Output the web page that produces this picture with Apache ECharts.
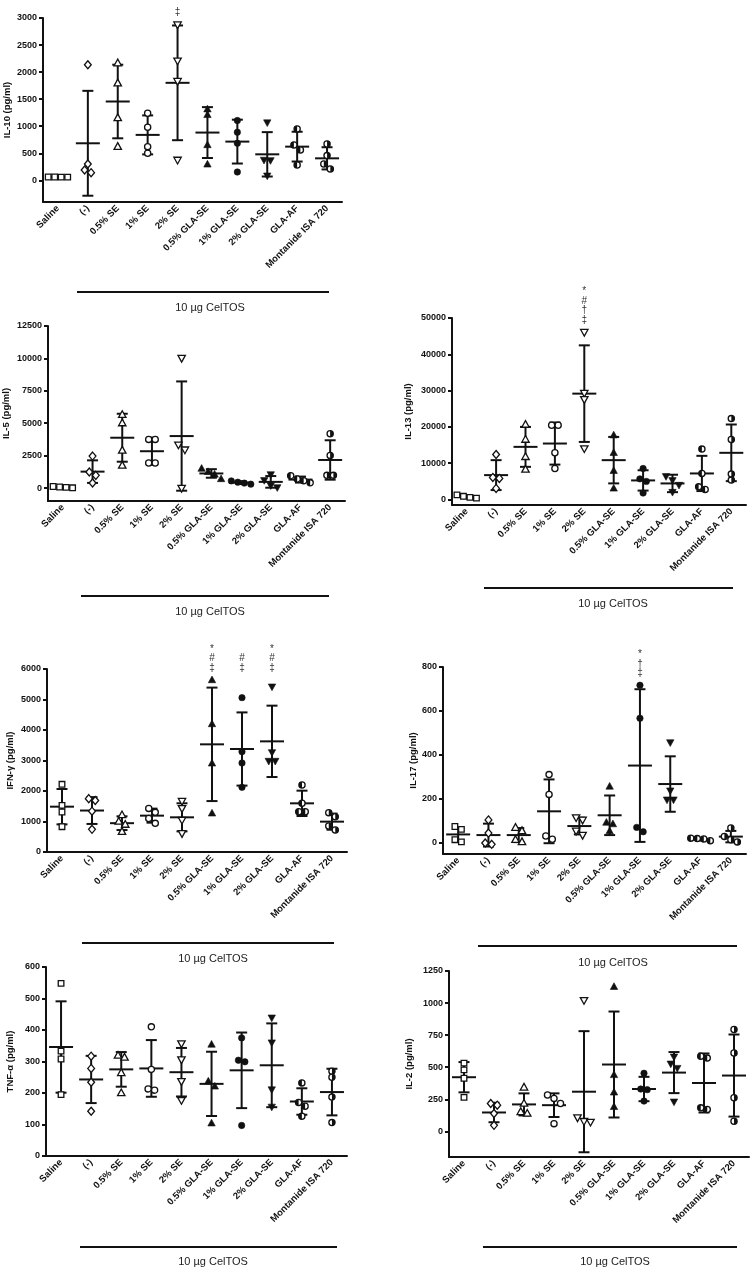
<!DOCTYPE html>
<html><head><meta charset="utf-8">
<script src="https://cdn.jsdelivr.net/npm/echarts@6/dist/echarts.min.js"></script>
<style>html,body{margin:0;padding:0;background:#fff}#c{width:750px;height:1271px}</style>
</head><body><div id="c"></div>
<script>
const categories = ['Saline','(-)','0.5% SE','1% SE','2% SE','0.5% GLA-SE','1% GLA-SE','2% GLA-SE','GLA-AF','Montanide ISA 720'];
const groupLabel = '10 \u00b5g CelTOS';

// IL-10
const il10Values = [[62,60,62,60],[2136,302,142,191],[2167,1796,1154,623],[1241,981,623,500],[2877,2210,1833,377],[1315,1210,654,296],[1105,889,685,154],[1068,377,370,86],[951,654,562,284],[673,457,302,210]];
const il10Mean = [61,685,1457,840,1802,883,716,481,623,407];
const il10SD = [3,969,680,360,1060,470,405,410,275,205];
const il10Ticks = [0,500,1000,1500,2000,2500,3000];
const il10Marks = [{g:4, marks:['\u2021']}];

// IL-5
const il5Values = [[120,80,50,20],[2467,1234,977,386],[5654,5012,2904,1748],[3752,3752,1928,1928],[10023,3341,2956,0],[1500,1250,1050,700],[550,450,380,300],[1050,600,200,50],[950,700,560,400],[4189,2519,977,977]];
const il5Mean = [68,1266,3881,2840,4009,1125,420,475,652,2165];
const il5SD = [40,870,1850,1050,4215,330,110,450,232,1520];
const il5Ticks = [0,2500,5000,7500,10000,12500];
const il5Marks = [];

// IL-13
const il13Values = [[1300,900,600,400],[12400,6090,5815,3070],[20650,16530,11770,8290],[20470,20470,12870,8560],[46100,29350,27600,14060],[17720,12870,7920,3070],[8560,5700,5000,1800],[6400,5300,4000,2060],[13900,7200,3500,2800],[22300,16530,7010,5360]];
const il13Mean = [800,6730,14510,15430,29170,10850,5270,4440,7190,12870];
const il13SD = [400,4120,5500,5800,13300,6400,2800,2400,4850,7800];
const il13Ticks = [0,10000,20000,30000,40000,50000];
const il13Marks = [{g:4, marks:['*','#','\u2020','\u2021']}];

// IFN-gamma
const ifngValues = [[2219,1530,1311,830],[1750,1690,1340,743],[1213,1000,900,667],[1430,1300,1100,940],[1672,1432,1049,612],[5639,4197,2907,1268],[5060,3290,2918,2120],[5420,3268,2984,2984],[2197,1596,1322,1322],[1290,1158,852,721]];
const ifngMean = [1486,1360,945,1192,1137,3530,3377,3628,1596,995];
const ifngSD = [580,440,225,230,460,1860,1200,1170,415,265];
const ifngTicks = [0,1000,2000,3000,4000,5000,6000];
const ifngMarks = [{g:5, marks:['*','#','\u2021']},{g:6, marks:['#','\u2021']},{g:7, marks:['*','#','\u2021']}];

// IL-17
const il17Values = [[75,62,15,5],[105,45,0,-6],[70,55,15,5],[311,221,32,17],[116,105,55,36],[257,93,86,54],[717,567,71,51],[457,238,197,197],[22,20,18,10],[68,30,15,5]];
const il17Mean = [39,36,36,144,77,126,352,268,17,29];
const il17SD = [32,52,32,145,38,90,347,126,6,26];
const il17Ticks = [0,200,400,600,800];
const il17Marks = [{g:6, marks:['*','\u2020','\u2021']}];

// TNF-alpha
const tnfValues = [[548,333,308,195],[317,278,234,142],[319,313,264,200],[410,275,213,209],[357,306,237,177],[354,237,221,104],[375,304,299,97],[439,360,211,156],[232,170,158,126],[269,250,187,106]];
const tnfMean = [346,243,275,278,266,229,272,288,173,203];
const tnfSD = [145,75,55,90,77,102,120,133,42,74];
const tnfTicks = [0,100,200,300,400,500,600];
const tnfMarks = [];

// IL-2
const il2Values = [[532,479,414,265],[217,204,139,47],[343,217,152,139],[283,257,217,60],[1022,107,79,73],[1127,440,304,191],[453,330,325,236],[581,527,493,231],[586,571,183,170],[794,611,262,79]];
const il2Mean = [422,147,210,204,309,521,330,458,377,435];
const il2SD = [118,76,86,92,472,413,95,160,230,320];
const il2Ticks = [0,250,500,750,1000,1250];
const il2Marks = [];

const INK = '#111';
const FONT = '"Liberation Sans", Arial, sans-serif';

const panels = [
  {name:'IL-10 (pg/ml)', values:il10Values, mean:il10Mean, sd:il10SD, ticks:il10Ticks, marks:il10Marks, min:-400, max:3000,
   grid:{left:43, top:18, width:299, height:184}, nameGap:31, bar:{x1:77,x2:329,y:292}, text:{x:210,y:308}},
  {name:'IL-5 (pg/ml)', values:il5Values, mean:il5Mean, sd:il5SD, ticks:il5Ticks, marks:il5Marks, min:-1000, max:12500,
   grid:{left:48, top:326, width:297, height:175}, nameGap:37, bar:{x1:81,x2:329,y:596}, text:{x:210,y:612}},
  {name:'IL-13 (pg/ml)', values:il13Values, mean:il13Mean, sd:il13SD, ticks:il13Ticks, marks:il13Marks, min:-1500, max:50000,
   grid:{left:452, top:318, width:294, height:187}, nameGap:39, bar:{x1:484,x2:733,y:588}, text:{x:613,y:604}},
  {name:'IFN-\u03b3 (pg/ml)', values:ifngValues, mean:ifngMean, sd:ifngSD, ticks:ifngTicks, marks:ifngMarks, min:0, max:6000,
   grid:{left:47, top:669, width:300, height:183}, nameGap:32, bar:{x1:82,x2:334,y:943}, text:{x:213,y:959}},
  {name:'IL-17 (pg/ml)', values:il17Values, mean:il17Mean, sd:il17SD, ticks:il17Ticks, marks:il17Marks, min:-50, max:800,
   grid:{left:443, top:667, width:303, height:187}, nameGap:25, bar:{x1:478,x2:737,y:946}, text:{x:613,y:963}},
  {name:'TNF-\u03b1 (pg/ml)', values:tnfValues, mean:tnfMean, sd:tnfSD, ticks:tnfTicks, marks:tnfMarks, min:0, max:600,
   grid:{left:46, top:967, width:301, height:189}, nameGap:31, bar:{x1:80,x2:337,y:1247}, text:{x:213,y:1262}},
  {name:'IL-2 (pg/ml)', values:il2Values, mean:il2Mean, sd:il2SD, ticks:il2Ticks, marks:il2Marks, min:-200, max:1250,
   grid:{left:449, top:971, width:300, height:186}, nameGap:35, bar:{x1:483,x2:737,y:1247}, text:{x:615,y:1262}}
];

function symbolShape(g, x, y) {
  const open = {fill:'#fff', stroke:INK, lineWidth:1.3};
  const solid = {fill:INK, stroke:INK, lineWidth:0.6};
  const up = [[x, y-4],[x+3.7, y+2.7],[x-3.7, y+2.7]];
  const dn = [[x, y+4],[x+3.7, y-2.7],[x-3.7, y-2.7]];
  switch (g) {
    case 0: return [{type:'rect', shape:{x:x-2.8, y:y-2.8, width:5.6, height:5.6}, style:open}];
    case 1: return [{type:'polygon', shape:{points:[[x,y-4],[x+3.4,y],[x,y+4],[x-3.4,y]]}, style:open}];
    case 2: return [{type:'polygon', shape:{points:up}, style:open}];
    case 3: return [{type:'circle', shape:{cx:x, cy:y, r:3.1}, style:open}];
    case 4: return [{type:'polygon', shape:{points:dn}, style:open}];
    case 5: return [{type:'polygon', shape:{points:up}, style:solid}];
    case 6: return [{type:'circle', shape:{cx:x, cy:y, r:3.2}, style:solid}];
    case 7: return [{type:'polygon', shape:{points:dn}, style:solid}];
    case 8: return [{type:'circle', shape:{cx:x, cy:y, r:3.1}, style:open},
                    {type:'sector', shape:{cx:x, cy:y, r:3.1, r0:0, startAngle:Math.PI/2, endAngle:Math.PI*1.5}, style:{fill:INK}}];
    default: return [{type:'circle', shape:{cx:x, cy:y, r:3.1}, style:open},
                    {type:'sector', shape:{cx:x, cy:y, r:3.1, r0:0, startAngle:-Math.PI/2, endAngle:Math.PI/2}, style:{fill:INK}}];
  }
}

const grids = [], xAxes = [], yAxes = [], series = [], graphics = [];

panels.forEach((p, pi) => {
  grids.push(Object.assign({containLabel:false}, p.grid));
  xAxes.push({
    gridIndex:pi, type:'category', data:categories, boundaryGap:true,
    axisLine:{onZero:false, lineStyle:{color:INK, width:2}},
    axisTick:{alignWithLabel:true, length:4, lineStyle:{color:INK, width:2}},
    axisLabel:{interval:0, rotate:45, fontSize:9.5, fontWeight:'bold', color:INK, margin:5, fontFamily:FONT},
    splitLine:{show:false}
  });
  yAxes.push({
    gridIndex:pi, type:'value', min:p.min, max:p.max,
    name:p.name, nameLocation:'middle', nameGap:p.nameGap,
    nameTextStyle:{fontSize:9.5, fontWeight:'bold', color:INK, fontFamily:FONT},
    axisLine:{show:true, lineStyle:{color:INK, width:2}},
    axisTick:{show:true, length:4, customValues:p.ticks, lineStyle:{color:INK, width:2}},
    axisLabel:{customValues:p.ticks, formatter:v => String(v), fontSize:9, fontWeight:'bold', color:INK, margin:6, fontFamily:FONT},
    splitLine:{show:false}
  });
  // error bars (mean +/- SD)
  series.push({
    type:'custom', xAxisIndex:pi, yAxisIndex:pi, z:2, silent:true,
    data:p.mean.map((m, i) => [i, m, p.sd[i]]),
    encode:{x:0, y:1},
    renderItem:function(params, api){
      const i = api.value(0), m = api.value(1), s = api.value(2);
      const cm = api.coord([i, m]), ct = api.coord([i, m + s]), cb = api.coord([i, m - s]);
      const x = cm[0];
      const st = {stroke:INK, lineWidth:2};
      return {type:'group', children:[
        {type:'line', shape:{x1:x-12, y1:cm[1], x2:x+12, y2:cm[1]}, style:st},
        {type:'line', shape:{x1:x, y1:ct[1], x2:x, y2:cb[1]}, style:st},
        {type:'line', shape:{x1:x-5.5, y1:ct[1], x2:x+5.5, y2:ct[1]}, style:st},
        {type:'line', shape:{x1:x-5.5, y1:cb[1], x2:x+5.5, y2:cb[1]}, style:st}
      ]};
    }
  });
  // individual points
  const vals = p.values;
  series.push({
    type:'custom', xAxisIndex:pi, yAxisIndex:pi, z:3, silent:true,
    data:vals.map((arr, i) => [i].concat(arr)),
    encode:{x:0, y:[1,2,3,4]},
    renderItem:function(params, api){
      const idx = api.value(0);
      const n = vals[params.dataIndex].length;
      const pts = [];
      for (let k = 1; k <= n; k++) {
        const c = api.coord([idx, api.value(k)]);
        pts.push({x:c[0], y:c[1]});
      }
      pts.sort((a, b) => a.y - b.y);
      const clusters = []; let cur = [pts[0]];
      for (let k = 1; k < pts.length; k++) {
        if (pts[k].y - cur[cur.length-1].y < 5.5) cur.push(pts[k]); else { clusters.push(cur); cur = [pts[k]]; }
      }
      clusters.push(cur);
      clusters.forEach(cl => cl.forEach((pt, j) => { pt.x += (j - (cl.length - 1) / 2) * 6.5; }));
      let children = [];
      pts.forEach(pt => { children = children.concat(symbolShape(params.dataIndex, pt.x, pt.y)); });
      return {type:'group', children:children};
    }
  });
  // significance marks
  if (p.marks.length) {
    let anchor = -Infinity;
    p.marks.forEach(a => { anchor = Math.max(anchor, Math.max.apply(null, vals[a.g]), p.mean[a.g] + p.sd[a.g]); });
    const mk = p.marks;
    series.push({
      type:'custom', xAxisIndex:pi, yAxisIndex:pi, z:4, silent:true,
      data:mk.map(a => [a.g, anchor]),
      encode:{x:0, y:1},
      renderItem:function(params, api){
        const a = mk[params.dataIndex];
        const c = api.coord([api.value(0), api.value(1)]);
        const n = a.marks.length;
        return {type:'group', children:a.marks.map((t, j) => ({
          type:'text', x:c[0], y:c[1] - 12 - (n - 1 - j) * 9.5,
          style:{text:t, fill:'#333', font:'10px ' + FONT, align:'center', verticalAlign:'middle'}
        }))};
      }
    });
  }
  graphics.push({type:'line', silent:true, shape:{x1:p.bar.x1, y1:p.bar.y, x2:p.bar.x2, y2:p.bar.y}, style:{stroke:INK, lineWidth:2}});
  graphics.push({type:'text', silent:true, x:p.text.x, y:p.text.y, style:{text:groupLabel, fill:'#222', font:'11px ' + FONT, align:'center', verticalAlign:'middle'}});
});

const chart = echarts.init(document.getElementById('c'), null, {renderer:'canvas'});
chart.setOption({
  animation:false,
  backgroundColor:'#fff',
  grid:grids, xAxis:xAxes, yAxis:yAxes, series:series, graphic:graphics
});
</script>
</body></html>
